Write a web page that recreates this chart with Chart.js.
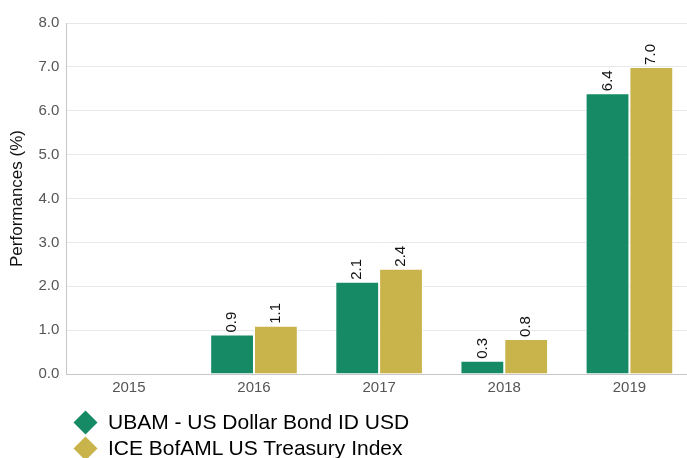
<!DOCTYPE html>
<html>
<head>
<meta charset="utf-8">
<script src="https://cdn.jsdelivr.net/npm/chart.js"></script>
<style>
  body{margin:0;background:#fff;font-family:"Liberation Sans",Arial,sans-serif;overflow:hidden}
  #wrap{position:relative;width:687px;height:458px;overflow:hidden}
  #box{position:absolute;left:0;top:0;width:692px;height:415px}
  #legend{position:absolute;left:74px;top:409px}
  .item{display:flex;align-items:center;height:26px;font-size:21px;color:#000}
  .mark{width:17px;height:17px;transform:rotate(45deg);margin:0 14px 0 3px}
</style>
</head>
<body>
<div id="wrap">
  <div id="box"><canvas id="grafik"></canvas></div>
  <div id="legend"></div>
</div>
<script>
const years = ["2015","2016","2017","2018","2019"];
const fundName = "UBAM - US Dollar Bond ID USD";
const indexName = "ICE BofAML US Treasury Index";
const fundValues = [null, 0.9, 2.1, 0.3, 6.4];
const indexValues = [null, 1.1, 2.4, 0.8, 7.0];
const colors = ["#168a64", "#c8b44a"];

// labels drawn vertically above each bar
const barLabels = {
  id: "barLabels",
  afterDatasetsDraw(chart) {
    const ctx = chart.ctx;
    ctx.save();
    ctx.font = "15px 'Liberation Sans', Arial";
    ctx.fillStyle = "#111";
    ctx.textAlign = "left";
    ctx.textBaseline = "middle";
    chart.data.datasets.forEach((ds, di) => {
      chart.getDatasetMeta(di).data.forEach((bar, i) => {
        if (ds.data[i] == null) return;
        ctx.save();
        ctx.translate(bar.x, bar.y - 2);
        ctx.rotate(-Math.PI / 2);
        ctx.fillText(ds.data[i].toFixed(1), 0, 0);
        ctx.restore();
      });
    });
    ctx.restore();
  }
};

new Chart(document.getElementById("grafik"), {
  type: "bar",
  data: {
    labels: years,
    datasets: [
      {label: fundName, data: fundValues, backgroundColor: colors[0], borderColor: "#fff", borderWidth: 1},
      {label: indexName, data: indexValues, backgroundColor: colors[1], borderColor: "#fff", borderWidth: 1}
    ]
  },
  options: {
    responsive: true,
    maintainAspectRatio: false,
    animation: false,
    categoryPercentage: 0.7,
    barPercentage: 1,
    layout: {padding: {top: 23, right: 0, bottom: 21, left: 3}},
    plugins: {legend: {display: false}, tooltip: {enabled: false}},
    scales: {
      x: {
        grid: {display: false},
        border: {color: "#c8c8c8"},
        ticks: {color: "#555", font: {size: 15, family: "'Liberation Sans', Arial"}, padding: -3}
      },
      y: {
        min: 0, max: 8,
        grid: {color: "#e8e8e8", drawTicks: false},
        border: {color: "#c8c8c8"},
        ticks: {stepSize: 1, color: "#555", padding: 7, font: {size: 15, family: "'Liberation Sans', Arial"},
          callback: v => v.toFixed(1)},
        title: {display: true, text: "Performances (%)", color: "#111", font: {size: 17, family: "'Liberation Sans', Arial"}, padding: 4}
      }
    }
  },
  plugins: [barLabels]
});

legend.innerHTML = [fundName, indexName].map((n, i) => `
  <div class="item"><span class="mark" style="background:${colors[i]}"></span>${n}</div>`).join("");
</script>
</body>
</html>
